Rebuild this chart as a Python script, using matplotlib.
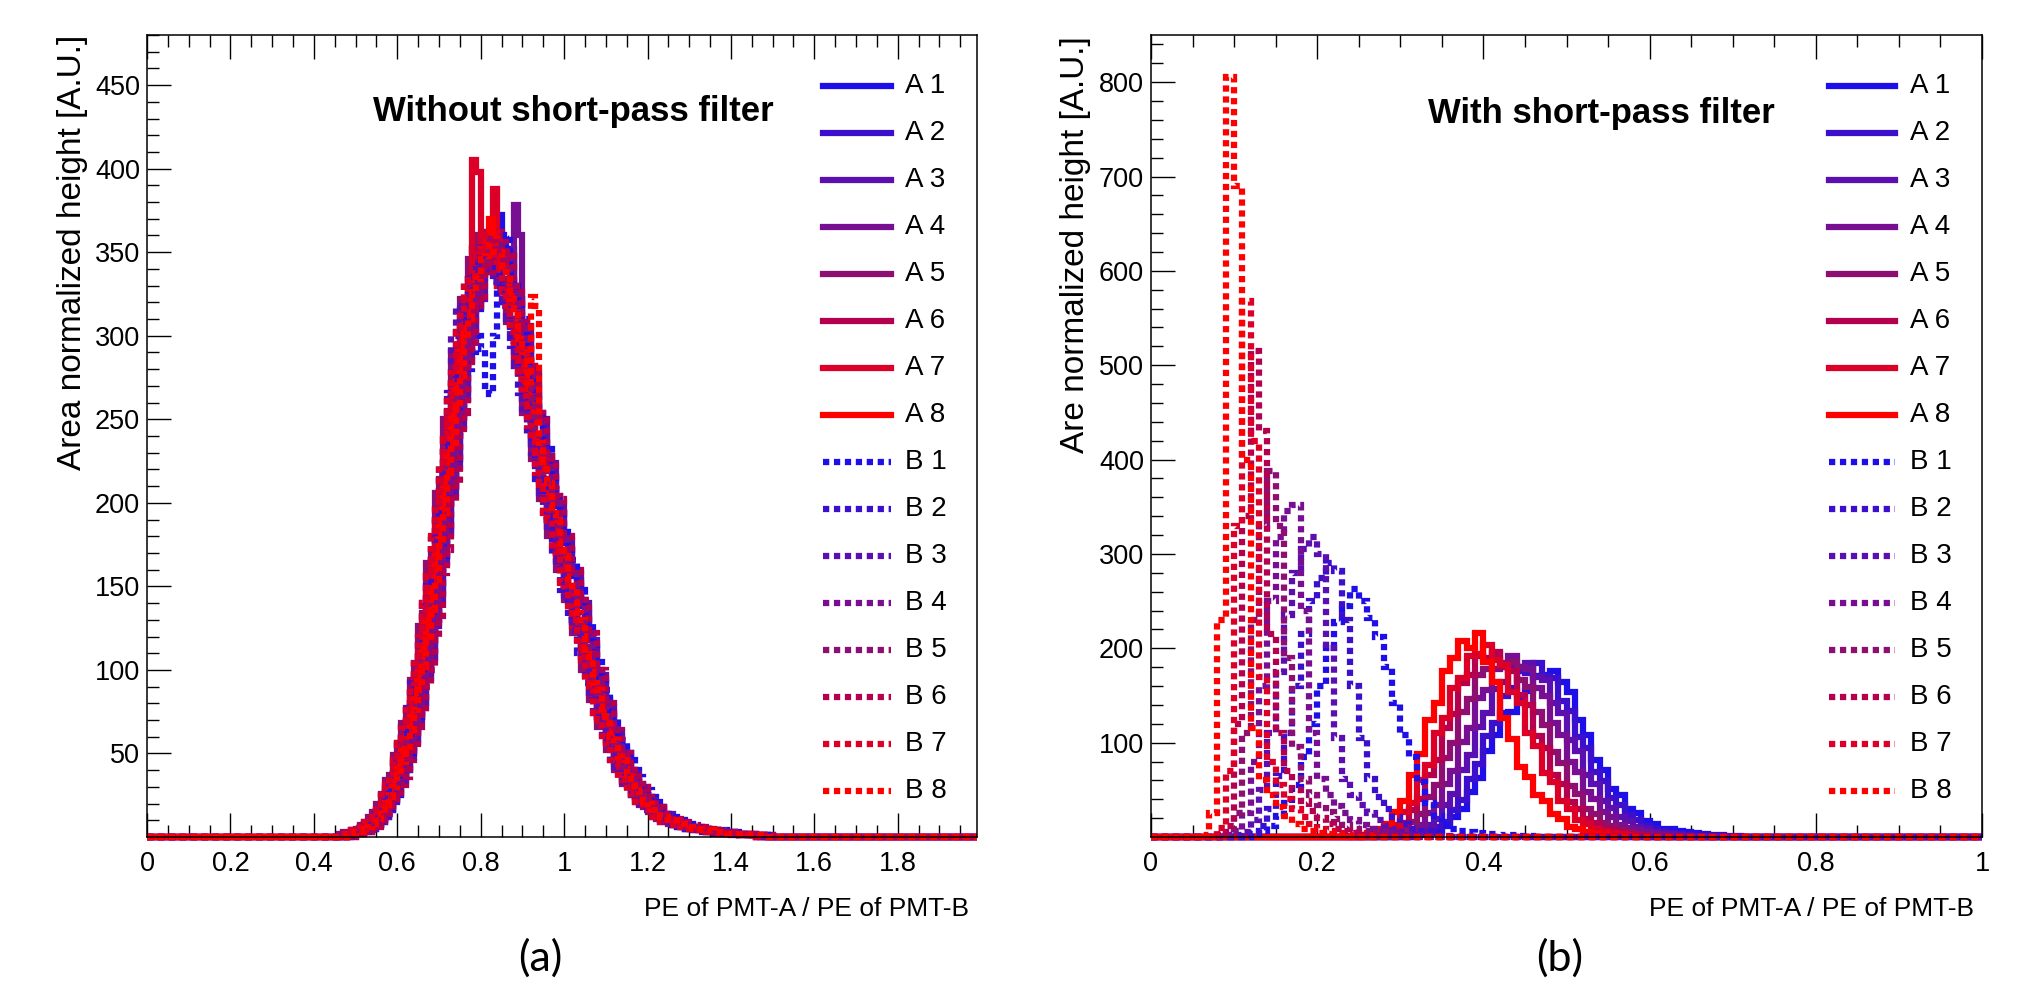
import numpy as np
import matplotlib
matplotlib.use("Agg")
import matplotlib.pyplot as plt
from matplotlib.lines import Line2D
from matplotlib.ticker import FixedLocator, MultipleLocator, FuncFormatter

# ------------------------------------------------------------------ data
series_labels = ["A 1", "A 2", "A 3", "A 4", "A 5", "A 6", "A 7", "A 8",
                 "B 1", "B 2", "B 3", "B 4", "B 5", "B 6", "B 7", "B 8"]

# panel (a): bins of 0.01, each series starts at its own first bin
left_bin_width = 0.01
left_start = {"A1": 0.49, "A2": 0.47, "A3": 0.50, "A4": 0.48,
              "A5": 0.46, "A6": 0.49, "A7": 0.47, "A8": 0.48,
              "B1": 0.49, "B2": 0.46, "B3": 0.47, "B4": 0.49,
              "B5": 0.48, "B6": 0.50, "B7": 0.46, "B8": 0.48}
left_A1 = [1,2,2,3,3,5,7,9,12,16,
           22,25,34,40,52,57,72,80,98,107,
           130,146,168,184,210,228,252,266,292,300,
           316,334,338,352,366,372,350,346,352,320,
           322,298,300,276,268,250,240,224,216,198,
           194,176,172,156,154,138,134,118,112,96,
           92,80,75,64,60,50,47,39,36,30,
           27,24,21,18,16,14,12,11,10,9,
           8,7,6,6,5,5,4,4,3,3,
           3,3,2,2,2,2,1,1,1,1]
left_A2 = [2,2,3,3,4,6,8,10,14,18,
           25,31,36,47,55,66,78,90,100,121,
           138,152,180,192,220,236,262,275,300,310,
           328,332,350,345,362,350,355,340,332,320,
           310,296,290,268,262,240,235,216,210,192,
           188,170,166,150,148,132,128,112,106,90,
           86,74,70,58,55,46,43,36,33,28,
           25,21,19,16,15,12,11,9,9,7,
           7,6,5,5,4,4,3,4,3,2,
           3,2,2,1,2,1,1,1,1,0]
left_A3 = [2,3,3,4,5,7,9,12,16,21,
           26,33,40,48,58,70,80,95,108,126,
           142,164,182,206,222,248,262,288,300,318,
           322,340,346,352,348,356,342,348,330,322,
           308,302,282,276,254,250,228,224,204,200,
           180,178,160,158,142,140,122,118,100,97,
           82,78,65,63,52,50,40,39,32,30,
           24,23,18,18,14,14,10,10,8,8,
           7,6,6,5,5,4,4,4,3,3,
           3,2,2,2,2,2,1,1,1,1]
left_A4 = [1,2,2,3,4,5,7,10,13,17,
           22,28,35,42,52,60,74,85,100,114,
           132,150,172,190,214,232,256,272,294,306,
           322,330,342,346,350,348,352,345,340,338,
           378,360,290,270,262,240,236,214,212,190,
           188,168,168,150,150,130,130,110,108,90,
           88,72,70,58,56,46,44,36,34,28,
           26,21,20,16,15,12,12,9,9,8,
           7,6,6,5,5,4,4,4,3,3,
           3,2,2,2,2,2,1,1,1,1]
left_A5 = [2,3,3,4,5,7,9,12,15,20,
           26,34,37,49,55,68,76,94,103,126,
           134,164,172,206,214,250,255,290,292,322,
           320,346,340,360,346,362,344,352,330,334,
           308,310,282,282,254,254,226,228,202,204,
           180,182,160,162,142,144,122,124,100,102,
           82,82,66,66,52,52,40,40,32,32,
           25,23,19,18,15,13,11,10,9,8,
           7,6,6,5,5,4,4,4,3,3,
           3,2,2,2,2,2,1,1,1,1]
left_A6 = [2,2,3,3,4,6,8,11,15,19,
           24,31,36,46,53,66,75,90,100,121,
           132,158,172,199,212,242,254,282,292,316,
           322,340,340,354,348,362,346,348,332,330,
           310,304,284,278,256,250,230,224,206,200,
           182,178,162,158,144,140,124,118,102,98,
           84,78,67,63,53,50,41,39,32,30,
           25,22,19,17,15,13,11,10,9,8,
           7,6,6,5,5,4,4,4,3,3,
           3,2,2,2,2,2,1,1,1,1]
left_A7 = [2,2,3,4,5,7,9,12,16,21,
           27,33,41,49,59,70,83,96,110,128,
           146,166,188,206,230,250,270,290,306,320,
           334,405,398,350,340,352,388,330,326,318,
           306,288,284,262,256,236,230,210,206,186,
           184,166,162,146,144,126,124,106,104,86,
           84,72,68,56,54,44,42,34,32,26,
           24,21,19,16,15,12,11,10,9,7,
           7,6,6,5,5,4,4,3,3,3,
           3,2,2,2,2,1,1,1,1,1]
left_A8 = [2,3,3,4,5,7,10,13,17,22,
           28,35,42,52,61,72,86,98,114,130,
           150,168,192,208,234,252,276,290,312,318,
           336,342,352,356,370,358,352,346,340,324,
           318,298,292,268,262,240,238,214,212,192,
           190,170,168,150,150,130,128,110,108,92,
           88,74,72,60,58,48,46,38,36,30,
           27,22,21,17,16,13,12,10,10,8,
           8,6,6,5,5,4,4,4,3,3,
           3,2,2,2,2,2,1,1,1,1]
left_B1 = [1,2,2,3,4,5,7,10,13,17,
           22,28,34,42,50,60,72,84,98,112,
           130,148,168,186,206,226,246,262,280,290,
           300,292,270,265,300,330,350,360,338,330,
           318,310,292,284,262,256,236,232,214,208,
           194,186,172,166,150,148,132,128,114,108,
           94,88,76,72,62,58,50,46,40,36,
           30,28,24,21,18,16,14,12,11,10,
           9,8,7,6,6,5,5,4,4,4,
           3,3,3,2,2,2,2,1,1,1]
left_B2 = [2,2,3,3,4,6,8,11,14,19,
           25,29,38,44,56,62,79,86,106,115,
           140,150,182,190,224,234,266,274,302,308,
           332,334,352,344,356,346,348,336,334,318,
           318,294,292,266,264,240,238,214,214,190,
           192,168,170,148,152,130,132,110,110,92,
           90,74,72,58,58,46,46,36,36,28,
           27,21,21,16,16,12,12,9,10,7,
           8,6,6,5,5,4,4,4,3,3,
           3,2,2,2,2,2,1,1,1,1]
left_B3 = [2,3,4,5,6,8,11,14,18,24,
           30,37,46,55,66,77,92,104,120,138,
           156,178,198,218,238,262,300,318,310,318,
           330,336,340,342,336,340,332,328,318,310,
           302,282,278,256,250,230,224,206,202,182,
           180,162,160,144,142,124,122,104,102,84,
           84,68,68,54,54,42,42,33,33,25,
           24,20,19,16,14,12,11,10,9,8,
           7,6,6,5,5,4,4,3,3,3,
           3,2,2,2,2,1,1,1,1,1]
left_B4 = [2,2,3,3,4,6,8,11,14,18,
           24,30,36,45,53,64,74,88,100,118,
           134,156,174,196,214,240,256,282,294,316,
           324,338,342,352,346,354,344,348,330,328,
           312,306,286,280,258,254,230,228,206,204,
           182,180,162,160,144,142,124,122,104,100,
           86,80,68,64,54,50,42,40,33,31,
           26,23,20,18,15,14,11,11,9,9,
           7,7,6,6,5,5,4,4,3,3,
           3,3,2,2,2,2,1,1,1,1]
left_B5 = [2,2,3,3,5,6,9,11,15,19,
           25,30,38,45,56,64,78,88,104,118,
           138,154,178,194,220,236,262,276,300,310,
           330,334,350,346,358,350,352,342,340,322,
           316,298,290,270,262,244,236,218,210,194,
           188,172,166,152,148,134,128,114,106,94,
           86,76,68,60,54,48,42,37,33,29,
           25,22,19,17,15,13,11,10,9,8,
           7,6,6,5,5,4,4,4,3,3,
           3,2,2,2,2,2,1,1,1,1]
left_B6 = [2,2,3,3,4,6,8,11,14,19,
           23,31,36,46,52,66,74,90,100,120,
           132,158,172,200,212,242,254,284,292,318,
           320,342,338,356,346,356,344,350,330,330,
           308,306,282,280,254,252,228,226,204,202,
           180,180,160,160,142,142,122,122,100,100,
           82,80,66,64,52,50,40,40,32,30,
           24,23,18,18,14,14,10,11,8,9,
           6,7,5,6,4,5,3,4,3,3,
           2,3,2,2,2,2,1,1,1,1]
left_B7 = [2,2,3,4,4,6,9,11,15,19,
           25,31,38,46,56,65,79,89,106,120,
           140,156,180,196,222,238,264,278,302,312,
           332,336,352,348,360,352,354,346,340,326,
           318,302,292,274,264,246,238,218,212,194,
           190,172,168,152,150,134,130,114,108,92,
           88,74,70,58,56,46,44,35,34,27,
           26,21,20,16,16,12,12,9,10,7,
           8,6,6,5,5,4,4,4,3,3,
           3,2,2,2,2,2,1,1,1,1]
left_B8 = [2,2,3,3,4,6,8,11,14,19,
           24,30,37,45,54,64,76,88,102,118,
           136,154,176,194,218,236,260,276,298,310,
           326,334,346,348,354,350,350,342,338,322,
           316,298,290,270,323,318,236,220,212,194,
           190,172,168,152,150,134,130,112,108,92,
           88,74,72,60,58,48,46,37,35,28,
           27,21,20,16,16,12,12,10,10,8,
           8,6,6,5,5,4,4,4,3,3,
           3,2,2,2,2,2,1,1,1,1]

# panel (b): bins of 0.01, each series starts at its own first bin
right_bin_width = 0.01
right_start = {"A1": 0.32, "A2": 0.31, "A3": 0.30, "A4": 0.29,
               "A5": 0.28, "A6": 0.27, "A7": 0.26, "A8": 0.25,
               "B1": 0.12, "B2": 0.11, "B3": 0.10, "B4": 0.09,
               "B5": 0.09, "B6": 0.08, "B7": 0.08, "B8": 0.06}
right_A1 = [2,4,7,12,21,30,48,63,91,108,131,132,148,155,171,172,176,164,154,124,108,82,71,51,44,30,25,17,14,9,8,6,5,4,3,2,2,1,1]
right_A2 = [2,3,6,11,16,29,39,62,77,107,121,149,158,176,174,184,171,168,144,134,106,94,69,59,41,34,23,18,12,9,6,4,3,2,1,1]
right_A3 = [2,4,7,13,19,34,46,71,87,117,131,157,164,181,180,184,170,166,142,131,103,91,66,56,38,31,21,17,11,8,5,4,3,2,1]
right_A4 = [2,4,9,13,25,34,56,70,101,116,147,156,178,180,192,180,178,158,149,121,108,80,69,48,40,26,21,13,10,7,5,3,2,1]
right_A5 = [2,5,9,16,24,42,55,84,100,132,146,172,178,194,184,186,166,159,132,119,90,78,54,46,30,24,15,12,7,5,3,2,1]
right_A6 = [2,5,10,15,29,40,66,82,115,130,163,172,192,190,196,180,176,150,140,107,94,66,56,37,30,19,15,9,7,5,3,2,1]
right_A7 = [2,4,9,13,26,36,60,76,110,126,158,168,192,194,204,188,182,154,142,110,96,68,58,38,30,18,14,8,6,4,3,2,1]
right_A8 = [2,4,8,14,26,38,66,88,124,142,176,190,208,200,216,186,164,126,104,74,64,45,38,24,19,11,8,5,3,2,1,1]
right_B1 = [3,6,12,22,36,55,85,120,160,200,228,245,263,250,232,212,180,142,108,85,58,36,22,13,8,6,5,4,3,3,2,2,1,1]
right_B2 = [1,4,12,30,65,110,160,215,250,275,290,282,230,160,105,62,42,30,21,14,9,6,4,2,1]
right_B3 = [2,5,18,50,110,175,235,280,305,318,300,200,105,62,45,34,25,18,12,8,5,3,2,1]
right_B4 = [2,6,25,80,160,250,318,345,352,240,110,62,44,33,25,18,13,9,6,4,2,1]
right_B5 = [5,25,110,230,330,388,330,190,95,62,45,34,26,19,13,9,6,4,2,1]
right_B6 = [2,12,120,340,515,430,215,110,70,50,38,28,20,14,9,6,4,2,1]
right_B7 = [10,70,330,568,420,170,80,55,40,30,21,14,9,6,4,2,1]
right_B8 = [2,25,230,805,690,400,115,60,44,32,22,14,9,6,4,3,2,1]

left_major_x = [0, 0.2, 0.4, 0.6, 0.8, 1.0, 1.2, 1.4, 1.6, 1.8]
left_major_y = [50, 100, 150, 200, 250, 300, 350, 400, 450]
right_major_x = [0, 0.2, 0.4, 0.6, 0.8, 1.0]
right_major_y = [100, 200, 300, 400, 500, 600, 700, 800]

left_title = "Without short-pass filter"
right_title = "With short-pass filter"
left_ylabel = "Area normalized height [A.U.]"
right_ylabel = "Are normalized height [A.U.]"
xlabel_text = "PE of PMT-A / PE of PMT-B"

# ------------------------------------------------------------------ style
colors8 = ["#1e0fe8", "#3c0fcc", "#5c0fb0", "#780f92",
           "#8e0f72", "#b4004e", "#dc0028", "#ff0000"]
DOT = (0, (1.0, 0.75))
LW = 4.5
FONT = "Liberation Sans"
plt.rcParams["font.family"] = [FONT, "DejaVu Sans"]

FW, FH = 2017, 988
fig = plt.figure(figsize=(FW / 100, FH / 100), dpi=100)
fig.patch.set_facecolor("white")


def fx(x):
    return x / FW


def fy(y):
    return 1 - y / FH


axL = fig.add_axes([fx(147), fy(837), fx(977 - 147), (837 - 35) / FH])
axR = fig.add_axes([fx(1151), fy(837), fx(1982 - 1151), (837 - 35) / FH])


def full_hist(start, width, vals, xmax):
    n = int(np.ceil(xmax / width - 1e-9))
    edges = np.arange(n + 1) * width
    edges[-1] = min(edges[-1], xmax)
    counts = np.zeros(n)
    i0 = int(round(start / width))
    counts[i0:i0 + len(vals)] = vals
    return edges, counts


left_series = [left_A1, left_A2, left_A3, left_A4, left_A5, left_A6, left_A7, left_A8,
               left_B1, left_B2, left_B3, left_B4, left_B5, left_B6, left_B7, left_B8]
right_series = [right_A1, right_A2, right_A3, right_A4, right_A5, right_A6, right_A7, right_A8,
                right_B1, right_B2, right_B3, right_B4, right_B5, right_B6, right_B7, right_B8]
keys = ["A1", "A2", "A3", "A4", "A5", "A6", "A7", "A8",
        "B1", "B2", "B3", "B4", "B5", "B6", "B7", "B8"]

LXMAX, LYMAX = 1.99, 480
RXMAX, RYMAX = 1.0, 850

for i, vals in enumerate(left_series):
    col = colors8[i % 8]
    ls = "-" if i < 8 else DOT
    e, c = full_hist(left_start[keys[i]], left_bin_width, vals, LXMAX)
    axL.stairs(c, e, baseline=None, color=col, lw=LW, linestyle=ls, clip_on=False, zorder=2)

for i, vals in enumerate(right_series):
    col = colors8[i % 8]
    ls = "-" if i < 8 else DOT
    e, c = full_hist(right_start[keys[i]], right_bin_width, vals, RXMAX)
    axR.stairs(c, e, baseline=None, color=col, lw=LW, linestyle=ls, clip_on=False, zorder=2)

fmt = FuncFormatter(lambda v, p: f"{v:g}")
for ax, xmax, ymax, mx, my, ymin_step in [
        (axL, LXMAX, LYMAX, left_major_x, left_major_y, 10),
        (axR, RXMAX, RYMAX, right_major_x, right_major_y, 20)]:
    ax.set_xlim(0, xmax)
    ax.set_ylim(0, ymax)
    ax.xaxis.set_major_locator(FixedLocator(mx))
    ax.yaxis.set_major_locator(FixedLocator(my))
    ax.xaxis.set_minor_locator(MultipleLocator(0.05))
    ax.yaxis.set_minor_locator(MultipleLocator(ymin_step))
    ax.xaxis.set_major_formatter(fmt)
    ax.yaxis.set_major_formatter(fmt)
    ax.tick_params(which="both", direction="in", top=True, right=False,
                   width=1.0, color="black", labelsize=19.5)
    ax.tick_params(which="major", length=17)
    ax.tick_params(which="minor", length=8.5)
    ax.tick_params(axis="x", pad=10)
    ax.tick_params(axis="y", pad=5)
    for s in ax.spines.values():
        s.set_linewidth(1.1)
        s.set_color("black")
        s.set_zorder(3)

# titles
fig.text(fx(573), fy(112), left_title, ha="center", va="center",
         fontsize=25, fontweight="bold")
fig.text(fx(1601), fy(113), right_title, ha="center", va="center",
         fontsize=25, fontweight="bold")

# axis titles
fig.text(fx(969), fy(909), xlabel_text, ha="right", va="center", fontsize=19)
fig.text(fx(1974), fy(909), xlabel_text, ha="right", va="center", fontsize=19)
fig.text(fx(72), fy(35), left_ylabel, ha="center", va="top", rotation=90, fontsize=24)
fig.text(fx(1075), fy(36), right_ylabel, ha="center", va="top", rotation=90, fontsize=24)

# panel labels
fig.text(fx(540), fy(958), "(a)", ha="center", va="center", fontsize=31,
         family=["Lato", "DejaVu Sans"])
fig.text(fx(1560), fy(958), "(b)", ha="center", va="center", fontsize=31,
         family=["Lato", "DejaVu Sans"])

# legends (drawn as figure artists)
for (lx0, lx1, tx) in [(823, 891, 905), (1829, 1895, 1910)]:
    for i, lab in enumerate(series_labels):
        y = 86 + 47 * i
        ls = "-" if i < 8 else DOT
        fig.add_artist(Line2D([fx(lx0), fx(lx1)], [fy(y), fy(y)],
                              color=colors8[i % 8], lw=LW, linestyle=ls))
        fig.text(fx(tx), fy(y), lab, ha="left", va="center", fontsize=20)

fig.savefig("out.png", dpi=100, facecolor="white")
